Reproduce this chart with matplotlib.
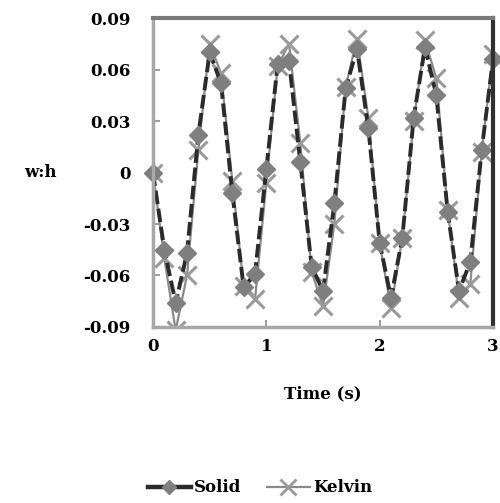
import matplotlib
matplotlib.use('Agg')
import matplotlib.pyplot as plt
from matplotlib.lines import Line2D

plt.rcParams['font.family'] = ['DejaVu Serif', 'Liberation Serif']
plt.rcParams['font.weight'] = 'bold'

time_s = [0.0, 0.1, 0.2, 0.3, 0.4, 0.5, 0.6, 0.7, 0.8, 0.9, 1.0,
          1.1, 1.2, 1.3, 1.4, 1.5, 1.6, 1.7, 1.8, 1.9, 2.0,
          2.1, 2.2, 2.3, 2.4, 2.5, 2.6, 2.7, 2.8, 2.9, 3.0]
solid = [0.0, -0.045, -0.076, -0.047, 0.022, 0.070, 0.052, -0.012, -0.067, -0.059, 0.002,
         0.063, 0.065, 0.006, -0.055, -0.069, -0.018, 0.049, 0.072, 0.026, -0.041,
         -0.073, -0.038, 0.032, 0.073, 0.045, -0.023, -0.069, -0.052, 0.013, 0.066]
kelvin = [0.0, -0.050, -0.092, -0.060, 0.013, 0.075, 0.058, -0.005, -0.066, -0.074, -0.006,
          0.062, 0.075, 0.017, -0.058, -0.078, -0.030, 0.050, 0.078, 0.032, -0.041,
          -0.079, -0.038, 0.030, 0.077, 0.055, -0.022, -0.073, -0.065, 0.012, 0.069]

yticks = [-0.09, -0.06, -0.03, 0, 0.03, 0.06, 0.09]
ytick_labels = ['-0.09', '-0.06', '-0.03', '0', '0.03', '0.06', '0.09']
xticks = [0, 1, 2, 3]

fig = plt.figure(figsize=(5.0, 5.03), dpi=100)
ax = fig.add_axes([0.306, 0.350, 0.680, 0.614])

ax.plot(time_s, kelvin, color='#8a8a8a', lw=1.6, marker='x', ms=13, mew=2.2,
        mec='#9a9a9a', zorder=2)
ax.plot(time_s, solid, color='#2b2b2b', lw=2.8, ls=(0, (3.5, 1.2)), marker='D', ms=9,
        mfc='#7f7f7f', mec='#7f7f7f', clip_on=False, zorder=3)

ax.set_xlim(0, 3)
ax.set_ylim(-0.09, 0.09)
ax.set_yticks(yticks)
ax.set_yticklabels(ytick_labels)
ax.set_xticks(xticks)
ax.tick_params(direction='in', length=5, width=1.5, color='#a0a0a0', labelsize=12)
ax.tick_params(axis='y', pad=16)
ax.tick_params(axis='x', pad=8)

for side in ('left', 'bottom'):
    ax.spines[side].set_color('#a8a8a8')
    ax.spines[side].set_linewidth(2.5)
ax.spines['top'].set_color('#7a7a7a')
ax.spines['top'].set_linewidth(3)
ax.spines['right'].set_color('#303030')
ax.spines['right'].set_linewidth(3)
for s in ax.spines.values():
    s.set_zorder(5)

ax.set_xlabel('Time (s)', fontsize=12, fontweight='bold', labelpad=22)
fig.text(0.08, 0.658, 'w:h', fontsize=12, fontweight='bold', ha='center', va='center')

handles = [
    Line2D([], [], color='#2b2b2b', lw=3.2, marker='D', ms=7, mfc='#7f7f7f', mec='#7f7f7f'),
    Line2D([], [], color='#8a8a8a', lw=1.6, marker='x', ms=12, mew=2, mec='#9a9a9a'),
]
fig.legend(handles, ['Solid', 'Kelvin'], loc='center', bbox_to_anchor=(0.52, 0.03), ncol=2,
           frameon=False, fontsize=12, handlelength=2.6, handletextpad=0.2, columnspacing=1.5)

fig.savefig('out.png', dpi=100)
